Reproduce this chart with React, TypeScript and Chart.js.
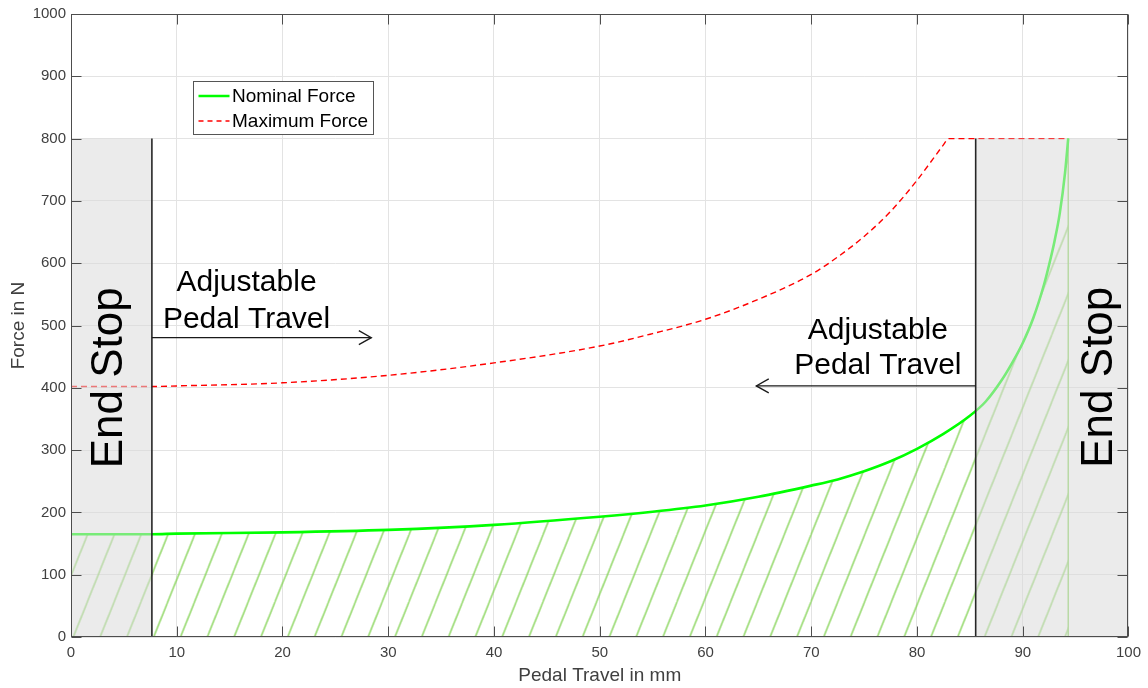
import { useEffect, useRef } from 'react';
import { Chart, registerables } from 'chart.js';

Chart.register(...registerables);

// ---------- data ----------
const nominalTravel = [0, 7.65, 10, 20, 30, 40, 50, 55, 60, 65, 70, 72.5, 75, 77.5, 80, 82.5, 85, 86.5, 88, 89, 90, 91, 92, 92.5, 93, 93.5, 94, 94.3];
const nominalForce = [165, 165, 166, 168, 172, 180, 193, 201, 211, 225, 243, 253, 266, 282, 302, 326, 355, 378, 412, 440, 472, 512, 565, 598, 635, 680, 745, 800];

const maxTravel = [0, 7.65, 10, 20, 30, 40, 50, 55, 60, 65, 70, 72.5, 75, 77.5, 80, 81.5, 82.5, 83, 94.3];
const maxForce = [402, 402, 403, 408, 420, 440, 467, 487, 510, 542, 582, 610, 643, 683, 733, 767, 790, 800, 800];

const endStopLeft = [0, 7.65];
const endStopRight = [85.55, 100];
const endStopForce = 800;

const xTickValues = [0, 10, 20, 30, 40, 50, 60, 70, 80, 90, 100];
const yTickValues = [0, 100, 200, 300, 400, 500, 600, 700, 800, 900, 1000];

const seriesLabels = ['Nominal Force', 'Maximum Force'];
const xTitle = 'Pedal Travel in mm';
const yTitle = 'Force in N';
const adjustLabel = ['Adjustable', 'Pedal Travel'];
const endStopLabel = 'End Stop';

// ---------- styles ----------
const FONT = "'Liberation Sans', Arial, Helvetica, sans-serif";
const GREEN = '#00ff00';
const RED = '#ff0000';
const HATCH = 'rgb(128,210,80)';
const STOP_FILL = 'rgba(218,218,218,0.55)';
const AXIS = '#4d4d4d';
const TEXT = '#404040';
const GRID = '#e3e3e3';

const pts = (xs: number[], ys: number[]) => xs.map((v, i) => ({ x: v, y: ys[i] }));

function makeHatch(): CanvasPattern | string {
  const W = 134; // 5 lines per tile -> 26.8 px spacing
  const H = 335; // slope 2.5
  const c = document.createElement('canvas');
  c.width = W;
  c.height = H;
  const g = c.getContext('2d');
  if (!g) return HATCH;
  g.strokeStyle = HATCH;
  g.lineWidth = 1.3;
  const step = W / 5;
  for (let k = -3; k <= 14; k++) {
    const c0 = k * step;
    g.beginPath();
    g.moveTo(c0, 0);
    g.lineTo(c0 - H / 2.5, H);
    g.stroke();
  }
  const p = g.createPattern(c, 'repeat');
  if (!p) return HATCH;
  try {
    p.setTransform(new DOMMatrix([1, 0, 0, 1, 6.5, 0]));
  } catch (e) {
    /* ignore */
  }
  return p;
}

const overlayPlugin = {
  id: 'overlay',
  afterDatasetsDraw(chart: any) {
    const { ctx, chartArea: a, scales } = chart;
    const xs = scales.x;
    const ys = scales.y;
    const X = (v: number) => xs.getPixelForValue(v);
    const Y = (v: number) => ys.getPixelForValue(v);
    ctx.save();

    // arrows
    const arrows = [
      { from: endStopLeft[1], to: 28.4, at: 480.5 },
      { from: endStopRight[0], to: 64.8, at: 403 },
    ];
    ctx.strokeStyle = '#1a1a1a';
    ctx.lineWidth = 1.3;
    arrows.forEach((ar) => {
      const x0 = X(ar.from);
      const x1 = X(ar.to);
      const y0 = Y(ar.at);
      const dir = x1 > x0 ? 1 : -1;
      ctx.beginPath();
      ctx.moveTo(x0, y0);
      ctx.lineTo(x1, y0);
      ctx.stroke();
      ctx.beginPath();
      ctx.moveTo(x1 - dir * 12.5, y0 - 7);
      ctx.lineTo(x1, y0);
      ctx.lineTo(x1 - dir * 12.5, y0 + 7);
      ctx.stroke();
    });

    // adjustable labels
    ctx.fillStyle = '#000';
    ctx.font = `30px ${FONT}`;
    ctx.textAlign = 'center';
    ctx.textBaseline = 'alphabetic';
    const adj = [
      { x: 16.6, ys: [555.2, 496.5] },
      { x: 76.3, ys: [478.9, 421.6] },
    ];
    adj.forEach((t) => {
      adjustLabel.forEach((s, i) => ctx.fillText(s, X(t.x), Y(t.ys[i])));
    });

    // end stop labels
    ctx.font = `44px ${FONT}`;
    [
      { x: 4.82, y: 416 },
      { x: 98.4, y: 417 },
    ].forEach((t) => {
      ctx.save();
      ctx.translate(X(t.x), Y(t.y));
      ctx.rotate(-Math.PI / 2);
      ctx.textAlign = 'center';
      ctx.textBaseline = 'alphabetic';
      ctx.fillText(endStopLabel, 0, 0);
      ctx.restore();
    });

    // axis box
    ctx.strokeStyle = AXIS;
    ctx.lineWidth = 1;
    const L = Math.round(a.left) + 0.5;
    const R = Math.round(a.right) - 0.5;
    const T = Math.round(a.top) + 0.5;
    const B = Math.round(a.bottom) - 0.5;
    ctx.strokeRect(L, T, R - L, B - T);
    // inward tick marks
    ctx.beginPath();
    xTickValues.forEach((v) => {
      const px = Math.round(X(v)) + 0.5;
      ctx.moveTo(px, B);
      ctx.lineTo(px, B - 10);
      ctx.moveTo(px, T);
      ctx.lineTo(px, T + 10);
    });
    yTickValues.forEach((v) => {
      const py = Math.round(Y(v)) + 0.5;
      ctx.moveTo(L, py);
      ctx.lineTo(L + 10, py);
      ctx.moveTo(R, py);
      ctx.lineTo(R - 10, py);
    });
    ctx.stroke();

    // axis titles
    ctx.fillStyle = TEXT;
    ctx.font = `19px ${FONT}`;
    ctx.textAlign = 'center';
    ctx.textBaseline = 'middle';
    ctx.fillText(xTitle, (a.left + a.right) / 2, 676);
    ctx.save();
    ctx.translate(19, (a.top + a.bottom) / 2);
    ctx.rotate(-Math.PI / 2);
    ctx.fillText(yTitle, 0, 0);
    ctx.restore();

    // legend
    const lx = a.left + 122.5;
    const ly = a.top + 67.5;
    const lw = 180;
    const lh = 53;
    ctx.fillStyle = '#fff';
    ctx.fillRect(lx, ly, lw, lh);
    ctx.strokeStyle = '#555';
    ctx.lineWidth = 1;
    ctx.strokeRect(lx, ly, lw, lh);
    const rows = [
      { y: ly + 14.5, color: GREEN, width: 2.5, dash: [] as number[] },
      { y: ly + 39.5, color: RED, width: 1.3, dash: [5, 4] },
    ];
    rows.forEach((r, i) => {
      ctx.strokeStyle = r.color;
      ctx.lineWidth = r.width;
      ctx.setLineDash(r.dash);
      ctx.beginPath();
      ctx.moveTo(lx + 5, r.y);
      ctx.lineTo(lx + 36, r.y);
      ctx.stroke();
      ctx.setLineDash([]);
      ctx.fillStyle = '#000';
      ctx.font = `19px ${FONT}`;
      ctx.textAlign = 'left';
      ctx.textBaseline = 'middle';
      ctx.fillText(seriesLabels[i], lx + 38.5, r.y + 0.5);
    });

    ctx.restore();
  },
};

export default function App() {
  const ref = useRef<HTMLCanvasElement | null>(null);

  useEffect(() => {
    const canvas = ref.current;
    if (!canvas) return;
    const hatch = makeHatch();
    const lastX = nominalTravel[nominalTravel.length - 1];
    const lastY = nominalForce[nominalForce.length - 1];

    const chart = new Chart(canvas, {
      type: 'line',
      data: {
        datasets: [
          {
            label: seriesLabels[0],
            data: pts(nominalTravel, nominalForce),
            borderColor: GREEN,
            borderWidth: 2.6,
            pointRadius: 0,
            fill: false,
            cubicInterpolationMode: 'monotone',
            order: 7,
          },
          {
            label: seriesLabels[1],
            data: pts(maxTravel, maxForce),
            borderColor: RED,
            borderWidth: 1.4,
            borderDash: [6, 4],
            pointRadius: 0,
            fill: false,
            cubicInterpolationMode: 'monotone',
            order: 8,
          },
          {
            label: 'hatch',
            data: pts(nominalTravel, nominalForce),
            borderColor: 'rgba(0,0,0,0)',
            borderWidth: 1,
            backgroundColor: hatch as any,
            fill: 'origin',
            pointRadius: 0,
            cubicInterpolationMode: 'monotone',
            order: 10,
          },
          {
            label: 'hatchEdge',
            data: [
              { x: lastX, y: 0 },
              { x: lastX, y: lastY },
            ],
            borderColor: HATCH,
            borderWidth: 1.3,
            pointRadius: 0,
            fill: false,
            order: 9,
          },
          {
            label: 'stopLeft',
            data: [
              { x: endStopLeft[0], y: endStopForce },
              { x: endStopLeft[1], y: endStopForce },
            ],
            borderColor: 'rgba(0,0,0,0)',
            borderWidth: 1,
            backgroundColor: STOP_FILL,
            fill: 'origin',
            pointRadius: 0,
            order: 6,
          },
          {
            label: 'stopRight',
            data: [
              { x: endStopRight[0], y: endStopForce },
              { x: endStopRight[1], y: endStopForce },
            ],
            borderColor: 'rgba(0,0,0,0)',
            borderWidth: 1,
            backgroundColor: STOP_FILL,
            fill: 'origin',
            pointRadius: 0,
            order: 5,
          },
          {
            label: 'limitLeft',
            data: [
              { x: endStopLeft[1], y: 0 },
              { x: endStopLeft[1], y: endStopForce },
            ],
            borderColor: '#262626',
            borderWidth: 1.6,
            pointRadius: 0,
            fill: false,
            order: 4,
          },
          {
            label: 'limitRight',
            data: [
              { x: endStopRight[0], y: 0 },
              { x: endStopRight[0], y: endStopForce },
            ],
            borderColor: '#262626',
            borderWidth: 1.6,
            pointRadius: 0,
            fill: false,
            order: 3,
          },
        ],
      },
      options: {
        responsive: false,
        animation: false,
        events: [],
        layout: { padding: { top: 12, right: 18, bottom: 0, left: 0 } },
        plugins: {
          legend: { display: false },
          tooltip: { enabled: false },
        },
        scales: {
          x: {
            type: 'linear',
            min: 0,
            max: 100,
            afterFit: (s: any) => {
              s.height = 51;
            },
            afterBuildTicks: (s: any) => {
              s.ticks = xTickValues.map((v) => ({ value: v }));
            },
            ticks: {
              color: TEXT,
              font: { family: FONT, size: 15 },
              padding: 7,
              maxRotation: 0,
              autoSkip: false,
              callback: (v: any) => String(v),
            },
            grid: { color: GRID, lineWidth: 1, drawTicks: false },
            border: { display: false },
          },
          y: {
            type: 'linear',
            min: 0,
            max: 1000,
            afterFit: (s: any) => {
              s.width = 71;
            },
            afterBuildTicks: (s: any) => {
              s.ticks = yTickValues.map((v) => ({ value: v }));
            },
            ticks: {
              color: TEXT,
              font: { family: FONT, size: 15 },
              padding: 5,
              autoSkip: false,
              callback: (v: any) => String(v),
            },
            grid: { color: GRID, lineWidth: 1, drawTicks: false },
            border: { display: false },
          },
        },
      } as any,
      plugins: [overlayPlugin],
    });

    return () => chart.destroy();
  }, []);

  return (
    <div style={{ position: 'absolute', left: 0, top: 0, width: 1148, height: 688, background: '#fff' }}>
      <canvas ref={ref} width={1148} height={688} style={{ display: 'block', width: 1148, height: 688 }} />
    </div>
  );
}
